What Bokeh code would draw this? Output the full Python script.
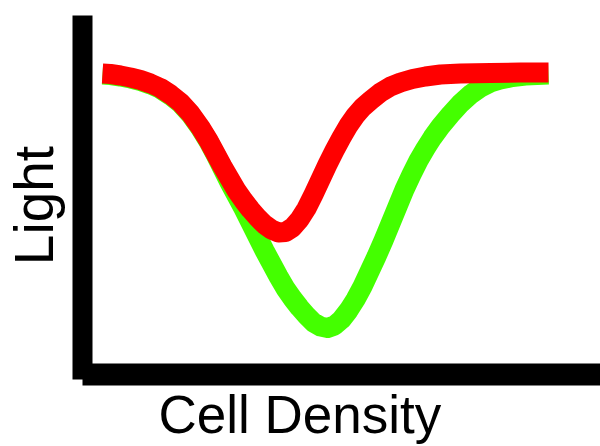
import math
from bokeh.plotting import figure
from bokeh.models import Range1d, LinearAxis, FixedTicker, Label
from bokeh.embed import file_html
from bokeh.resources import INLINE

# Cell density (arbitrary units) and light (arbitrary units)
red_x = [20, 28, 38, 48, 58, 68, 78, 88, 98, 108, 118, 126, 133, 140, 147, 154, 161, 168, 175,
         182, 189, 196, 203, 210, 217, 224, 231, 238, 245, 252, 259, 266, 273, 280, 288, 298,
         308, 318, 330, 343, 358, 378, 408, 438, 466]
red_y = [301, 300.5, 299, 297, 294.5, 291, 286.5, 280, 272, 261, 247, 234, 221, 208, 196, 184,
         174, 165, 157, 150, 145, 142, 142.5, 147, 155, 166, 180, 195, 210, 224, 237, 249, 259,
         267, 274, 282, 288, 292, 295.5, 298, 300, 301, 301.5, 302, 302]

green_x = [20, 28, 38, 48, 58, 68, 78, 88, 98, 108, 118, 126, 133, 140, 147, 154, 161, 168, 175,
           182, 189, 196, 203, 210, 217, 224, 231, 238, 245, 252, 259, 266, 273, 280, 287, 294,
           301, 308, 315, 322, 329, 336, 343, 350, 358, 368, 378, 388, 398, 408, 418, 430, 443, 466]
green_y = [300, 299.5, 298, 296, 293.5, 290, 285.5, 279, 271, 260, 246, 233, 220, 206, 192, 179,
           166, 152, 138, 124, 111, 98, 86, 76, 67, 59, 52, 48, 46.5, 49, 55, 64, 75, 88, 103, 118,
           134, 151, 168, 185, 200, 214, 226, 237, 248, 260, 271, 280, 287, 292, 295, 297.5, 299, 300]

x_label = "Cell Density"
y_label = "Light"

p = figure(width=600, height=446, output_backend="svg", toolbar_location=None,
           x_range=Range1d(-82, 518), y_range=Range1d(-72, 374),
           x_axis_location=None, y_axis_location=None,
           min_border_left=0, min_border_right=0, min_border_top=0, min_border_bottom=0)
p.background_fill_color = "white"
p.border_fill_color = "white"
p.outline_line_color = None
p.xgrid.visible = False
p.ygrid.visible = False

left_axis = LinearAxis(ticker=FixedTicker(ticks=[]), fixed_location=0, bounds=(-5, 359),
                       axis_line_width=20, axis_line_color="black",
                       major_tick_line_color=None, minor_tick_line_color=None,
                       major_label_text_font_size="0px")
bottom_axis = LinearAxis(ticker=FixedTicker(ticks=[]), fixed_location=0, bounds=(0, 518),
                         axis_line_width=22, axis_line_color="black",
                         major_tick_line_color=None, minor_tick_line_color=None,
                         major_label_text_font_size="0px")
p.add_layout(left_axis, "left")
p.add_layout(bottom_axis, "below")

p.line(green_x, green_y, line_color="#44ff00", line_width=20, line_cap="butt", line_join="round")
p.line(red_x, red_y, line_color="#ff0000", line_width=20, line_cap="butt", line_join="round")

p.add_layout(Label(x=76, y=-40, text=x_label, text_align="left", text_baseline="alphabetic",
                   text_font="Liberation Sans", text_font_size="53px", text_color="black"))
p.add_layout(Label(x=-49, y=169, text=y_label, angle=math.pi / 2, text_align="center",
                   text_baseline="alphabetic",
                   text_font="Liberation Sans", text_font_size="55px", text_color="black"))

open("out.html", "w").write(file_html(p, INLINE))
